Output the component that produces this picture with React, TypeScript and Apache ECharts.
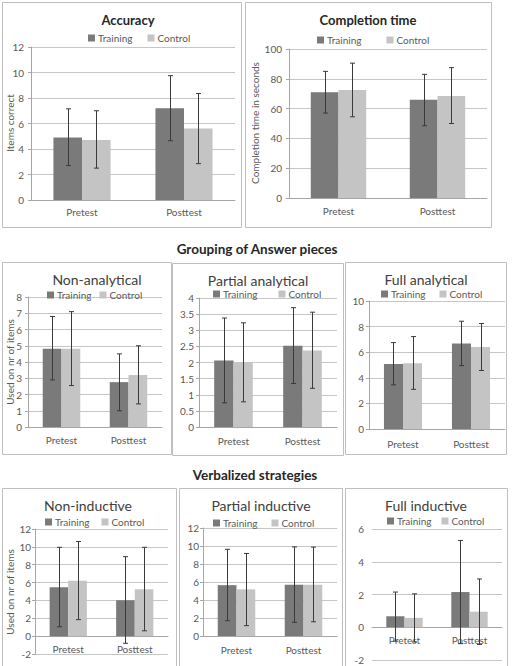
import React, { useEffect, useRef } from 'react';
import * as echarts from 'echarts';

const categories = ['Pretest', 'Posttest'];
const groups = ['Training', 'Control'];

// Accuracy
const accuracyTraining = [4.9, 7.2];
const accuracyControl = [4.7, 5.6];
const accuracyTrainingErr = [[2.7, 7.15], [4.65, 9.75]];
const accuracyControlErr = [[2.5, 7.0], [2.85, 8.35]];
const accuracyAxis = [0, 12, 2];

// Completion time
const completionTraining = [71, 66];
const completionControl = [72.5, 68.5];
const completionTrainingErr = [[57, 85], [48.5, 83]];
const completionControlErr = [[54.5, 90.5], [50, 87.5]];
const completionAxis = [0, 100, 20];

// Grouping of answer pieces
const nonAnalyticalTraining = [4.82, 2.76];
const nonAnalyticalControl = [4.82, 3.2];
const nonAnalyticalTrainingErr = [[2.9, 6.8], [1.0, 4.5]];
const nonAnalyticalControlErr = [[2.55, 7.1], [1.42, 5.0]];
const nonAnalyticalAxis = [0, 8, 1];

const partialAnalyticalTraining = [2.06, 2.52];
const partialAnalyticalControl = [2.0, 2.37];
const partialAnalyticalTrainingErr = [[0.75, 3.38], [1.35, 3.7]];
const partialAnalyticalControlErr = [[0.78, 3.23], [1.2, 3.56]];
const partialAnalyticalAxis = [0, 4, 0.5];

const fullAnalyticalTraining = [5.08, 6.68];
const fullAnalyticalControl = [5.13, 6.4];
const fullAnalyticalTrainingErr = [[3.45, 6.75], [4.95, 8.42]];
const fullAnalyticalControlErr = [[3.1, 7.22], [4.57, 8.24]];
const fullAnalyticalAxis = [0, 10, 2];

// Verbalized strategies
const nonInductiveTraining = [5.47, 4.02];
const nonInductiveControl = [6.2, 5.25];
const nonInductiveTrainingErr = [[1.05, 9.95], [-0.8, 8.9]];
const nonInductiveControlErr = [[1.85, 10.6], [0.6, 9.95]];
const nonInductiveAxis = [-2, 12, 2];

const partialInductiveTraining = [5.65, 5.7];
const partialInductiveControl = [5.18, 5.7];
const partialInductiveTrainingErr = [[1.7, 9.63], [1.52, 9.9]];
const partialInductiveControlErr = [[1.15, 9.17], [1.58, 9.88]];
const partialInductiveAxis = [0, 12, 2];

const fullInductiveTraining = [0.67, 2.15];
const fullInductiveControl = [0.57, 0.95];
const fullInductiveTrainingErr = [[-0.85, 2.15], [-1.0, 5.3]];
const fullInductiveControlErr = [[-0.9, 2.04], [-1.05, 2.95]];
const fullInductiveAxis = [-2, 6, 2];

const headings = ['Grouping of Answer pieces', 'Verbalized strategies'];

const panelData = [
  { title: 'Accuracy', yName: 'Items correct', t: accuracyTraining, c: accuracyControl, te: accuracyTrainingErr, ce: accuracyControlErr, axis: accuracyAxis },
  { title: 'Completion time', yName: 'Completion time in seconds', t: completionTraining, c: completionControl, te: completionTrainingErr, ce: completionControlErr, axis: completionAxis },
  { title: 'Non-analytical', yName: 'Used on nr of items', t: nonAnalyticalTraining, c: nonAnalyticalControl, te: nonAnalyticalTrainingErr, ce: nonAnalyticalControlErr, axis: nonAnalyticalAxis },
  { title: 'Partial analytical', yName: '', t: partialAnalyticalTraining, c: partialAnalyticalControl, te: partialAnalyticalTrainingErr, ce: partialAnalyticalControlErr, axis: partialAnalyticalAxis },
  { title: 'Full analytical', yName: '', t: fullAnalyticalTraining, c: fullAnalyticalControl, te: fullAnalyticalTrainingErr, ce: fullAnalyticalControlErr, axis: fullAnalyticalAxis },
  { title: 'Non-inductive', yName: 'Used on nr of items', t: nonInductiveTraining, c: nonInductiveControl, te: nonInductiveTrainingErr, ce: nonInductiveControlErr, axis: nonInductiveAxis },
  { title: 'Partial inductive', yName: '', t: partialInductiveTraining, c: partialInductiveControl, te: partialInductiveTrainingErr, ce: partialInductiveControlErr, axis: partialInductiveAxis },
  { title: 'Full inductive', yName: '', t: fullInductiveTraining, c: fullInductiveControl, te: fullInductiveTrainingErr, ce: fullInductiveControlErr, axis: fullInductiveAxis },
];

// layout (pixel positions)
const layout = [
  { rect: [2, 2, 239, 225], grid: [31, 47, 204, 153], title: [128, 20], bold: true, legend: [88, 32, 15], yName: [10, 123], yMargin: 7, catMargin: 7, axisLine: true },
  { rect: [245, 2, 246, 225], grid: [289, 49, 198, 149], title: [368, 20], bold: true, legend: [317, 34, 25], yName: [255, 123], yMargin: 7, catMargin: 8, axisLine: true },
  { rect: [2, 262, 169, 192], grid: [28, 297, 134, 130], title: [97, 279], bold: false, legend: [47, 289, 8], yName: [10, 362], yMargin: 6, catMargin: 8, axisLine: true },
  { rect: [172, 263, 171, 192], grid: [199, 298, 138, 129], title: [258, 280], bold: false, legend: [213, 288, 21], yName: null, yMargin: 5, catMargin: 9, axisLine: true },
  { rect: [345, 262, 161, 192], grid: [369, 301, 136, 128], title: [426, 279], bold: false, legend: [381, 288, 14], yName: null, yMargin: 5, catMargin: 10, axisLine: true },
  { rect: [2, 488, 174, 190], grid: [35, 529, 133, 125], title: [88, 505], bold: false, legend: [45, 516, 12], yName: [10, 592], yMargin: 4, catMargin: 8, axisLine: true },
  { rect: [179, 488, 163, 190], grid: [203, 528, 134, 108], title: [261, 505], bold: false, legend: [213, 517, 14], yName: null, yMargin: 4, catMargin: 9, axisLine: true },
  { rect: [345, 488, 162, 190], grid: [372, 529, 130, 131], title: [426, 505], bold: false, legend: [387, 515, 10], yName: null, yMargin: 8, catMargin: 8, axisLine: false },
];
const headingPos = [[257, 249], [255, 475]];

const FONT = 'Lato, "Liberation Sans", sans-serif';
const TRAIN_COLOR = '#7a7a7a';
const CTRL_COLOR = '#c4c4c4';
const LABEL_COLOR = '#595959';
const ERR_COLOR = '#3a3a3a';

function errorRender(offset: number) {
  return (params: any, api: any) => {
    const xi = api.value(0);
    const lo = api.value(1);
    const hi = api.value(2);
    const band = api.size([1, 0])[0];
    const top = api.coord([xi, hi]);
    const bot = api.coord([xi, lo]);
    const cx = Math.round(top[0] + offset * band) + 0.5;
    const style = { stroke: ERR_COLOR, lineWidth: 1 };
    return {
      type: 'group',
      children: [
        { type: 'line', shape: { x1: cx, y1: top[1], x2: cx, y2: bot[1] }, style },
        { type: 'line', shape: { x1: cx - 2.5, y1: top[1], x2: cx + 2.5, y2: top[1] }, style },
        { type: 'line', shape: { x1: cx - 2.5, y1: bot[1], x2: cx + 2.5, y2: bot[1] }, style },
      ],
    };
  };
}

export default function App() {
  const ref = useRef<HTMLDivElement>(null);
  useEffect(() => {
    if (!ref.current) return;
    const chart = echarts.init(ref.current, undefined, { renderer: 'svg' });
    const grid: any[] = [];
    const xAxis: any[] = [];
    const yAxis: any[] = [];
    const legend: any[] = [];
    const series: any[] = [];
    const graphic: any[] = [];

    panelData.forEach((p, i) => {
      const L = layout[i];
      const [amin, amax] = p.axis;
      // shift the category axis up to the zero line when the value axis goes below zero
      const zeroOffset = amin < 0 ? -L.grid[3] * (0 - amin) / (amax - amin) : 0;
      grid.push({ left: L.grid[0], top: L.grid[1], width: L.grid[2], height: L.grid[3], containLabel: false, outerBoundsMode: 'none' });
      xAxis.push({
        type: 'category', gridIndex: i, data: categories, position: 'bottom', offset: zeroOffset,
        axisTick: { show: false },
        axisLine: { show: true, onZero: false, lineStyle: { color: '#a6a6a6', width: 1 } },
        axisLabel: { margin: L.catMargin, fontSize: 10, color: LABEL_COLOR, fontFamily: FONT },
      });
      yAxis.push({
        type: 'value', gridIndex: i, min: p.axis[0], max: p.axis[1], interval: p.axis[2],
        axisLine: { show: L.axisLine, lineStyle: { color: '#a6a6a6', width: 1 } },
        axisTick: { show: L.axisLine, length: 3, lineStyle: { color: '#a6a6a6' } },
        splitLine: { show: true, lineStyle: { color: '#c6c6c6', width: 1 } },
        axisLabel: { margin: L.yMargin, fontSize: 10, color: LABEL_COLOR, fontFamily: FONT },
      });
      legend.push({
        data: groups, left: L.legend[0], top: L.legend[1], itemGap: L.legend[2],
        itemWidth: 7, itemHeight: 7, icon: 'rect', padding: 0, selectedMode: false,
        textStyle: { fontSize: 10, color: LABEL_COLOR, fontFamily: FONT, lineHeight: 12, padding: [0, 0, 0, -2] },
      });
      series.push({
        type: 'bar', name: groups[0], xAxisIndex: i, yAxisIndex: i, data: p.t,
        barWidth: '28%', barGap: '0%', itemStyle: { color: TRAIN_COLOR },
      });
      series.push({
        type: 'bar', name: groups[1], xAxisIndex: i, yAxisIndex: i, data: p.c,
        barWidth: '28%', barGap: '0%', itemStyle: { color: CTRL_COLOR },
      });
      series.push({
        type: 'custom', name: groups[0] + ' error', xAxisIndex: i, yAxisIndex: i, z: 5,
        data: p.te.map((e, k) => [k, e[0], e[1]]), encode: { x: 0, y: [1, 2] },
        renderItem: errorRender(-0.14), silent: true,
      });
      series.push({
        type: 'custom', name: groups[1] + ' error', xAxisIndex: i, yAxisIndex: i, z: 5,
        data: p.ce.map((e, k) => [k, e[0], e[1]]), encode: { x: 0, y: [1, 2] },
        renderItem: errorRender(0.14), silent: true,
      });
      graphic.push({
        type: 'rect', silent: true, z: -1,
        shape: { x: L.rect[0] + 0.5, y: L.rect[1] + 0.5, width: L.rect[2], height: L.rect[3] },
        style: { fill: 'none', stroke: '#bfbfbf', lineWidth: 1 },
      });
      graphic.push({
        type: 'text', x: L.title[0], y: L.title[1], silent: true,
        style: {
          text: p.title, textAlign: 'center', textVerticalAlign: 'middle', align: 'center', verticalAlign: 'middle',
          fontSize: L.bold ? 13 : 14, fontWeight: L.bold ? 'bold' : 'normal', fontFamily: FONT,
          fill: L.bold ? '#262626' : '#404040',
        },
      });
      if (L.yName && p.yName) {
        graphic.push({
          type: 'text', x: L.yName[0], y: L.yName[1], rotation: Math.PI / 2, silent: true,
          style: {
            text: p.yName, textAlign: 'center', textVerticalAlign: 'middle', align: 'center', verticalAlign: 'middle',
            fontSize: 10, fontFamily: FONT, fill: LABEL_COLOR,
          },
        });
      }
    });

    headings.forEach((h, i) => {
      graphic.push({
        type: 'text', x: headingPos[i][0], y: headingPos[i][1], silent: true,
        style: {
          text: h, textAlign: 'center', textVerticalAlign: 'middle', align: 'center', verticalAlign: 'middle',
          fontSize: 13.5, fontWeight: 'bold', fontFamily: FONT, fill: '#262626',
        },
      });
    });

    chart.setOption({
      animation: false,
      backgroundColor: '#ffffff',
      textStyle: { fontFamily: FONT },
      grid, xAxis, yAxis, legend, series, graphic,
    });
    return () => chart.dispose();
  }, []);
  return (
    <div style={{ position: 'absolute', left: 0, top: 0, width: 514, height: 666, background: '#fff' }}>
      <div ref={ref} style={{ width: 514, height: 666 }} />
    </div>
  );
}
